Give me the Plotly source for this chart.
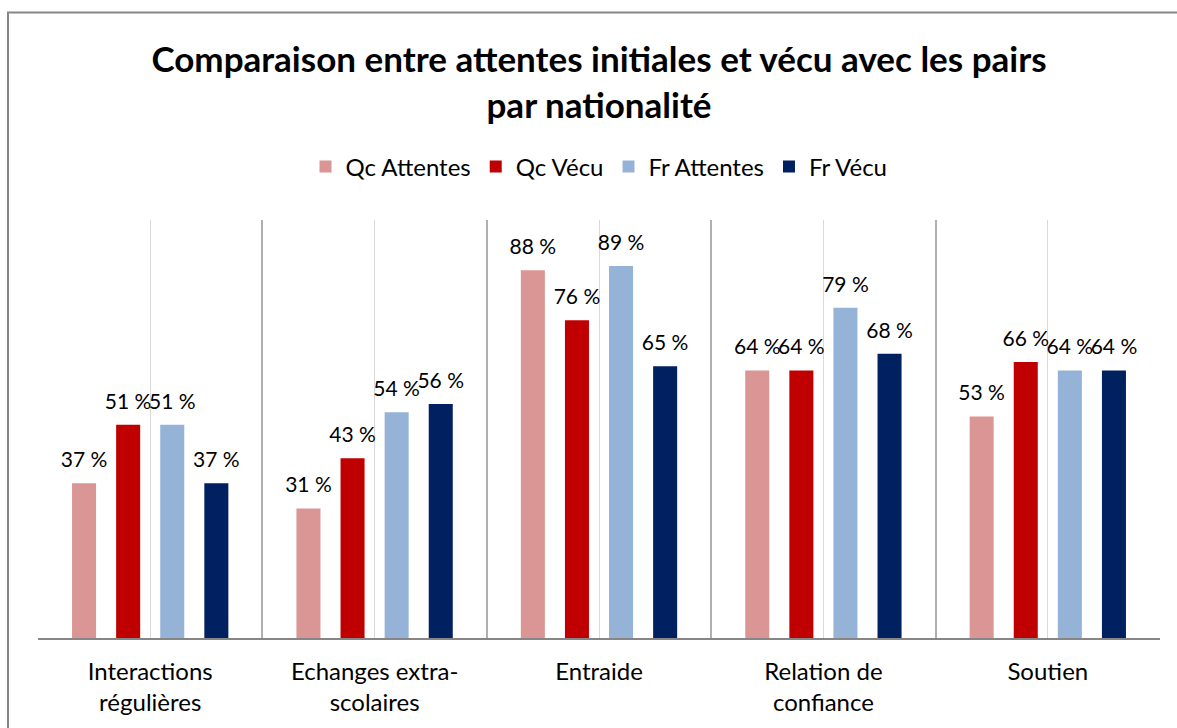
import plotly.graph_objects as go

# Categories and series (percentages)
categories = ["Interactions<br>régulières", "Echanges extra-<br>scolaires", "Entraide",
              "Relation de<br>confiance", "Soutien"]
series_names = ["Qc Attentes", "Qc Vécu", "Fr Attentes", "Fr Vécu"]
qc_attentes = [37, 31, 88, 64, 53]
qc_vecu = [51, 43, 76, 64, 66]
fr_attentes = [51, 54, 89, 79, 64]
fr_vecu = [37, 56, 65, 68, 64]
colors = ["#D99694", "#C00000", "#95B3D7", "#002060"]

FONT = "Lato"
xpos = list(range(len(categories)))
values = [qc_attentes, qc_vecu, fr_attentes, fr_vecu]

fig = go.Figure()
for name, vals, col in zip(series_names, values, colors):
    fig.add_trace(go.Bar(x=xpos, y=vals, name=name, marker=dict(color=col, line=dict(width=0)),
                         hoverinfo="skip"))

# value labels, grouped alongside the bars
for name, vals in zip(series_names, values):
    fig.add_trace(go.Scatter(x=xpos, y=vals, mode="markers+text",
                             text=[f"{v} %" for v in vals], textposition="top center",
                             textfont=dict(family=FONT, size=21, color="#000000"),
                             marker=dict(size=16, opacity=0), showlegend=False,
                             hoverinfo="skip", cliponaxis=False))

fig.update_layout(
    width=1177, height=728,
    margin=dict(l=38, r=17, t=220, b=90),
    paper_bgcolor="white", plot_bgcolor="white",
    barmode="group", bargap=0.214, bargroupgap=0.455,
    scattermode="group", scattergap=0.214,
    font=dict(family=FONT, color="#000000"),
    title=dict(text="<b>Comparaison entre attentes initiales et vécu avec les pairs<br>par nationalité</b>",
               x=(38 + 1160) / 2 / 1177, xanchor="center", y=0.901, yanchor="top",
               font=dict(family=FONT, size=35, color="#000000")),
    legend=dict(orientation="h", x=0.5, xanchor="center", y=1.127, yanchor="middle",
                font=dict(family=FONT, size=24, color="#000000"), traceorder="normal"),
    xaxis=dict(range=[-0.5, 4.5], tickvals=xpos, ticktext=categories,
               showgrid=True, gridcolor="#D9D9D9", gridwidth=1,
               minor=dict(tick0=0.5, dtick=1, showgrid=True, gridcolor="#B0B0B0", gridwidth=2),
               showline=True, linecolor="#868686", linewidth=2,
               ticks="", tickfont=dict(family=FONT, size=24, color="#000000"),
               ticklabelstandoff=11, zeroline=False, fixedrange=True),
    yaxis=dict(range=[0, 100], visible=False, showgrid=False, zeroline=False, fixedrange=True),
    shapes=[dict(type="rect", xref="paper", yref="paper",
                 x0=(8 - 38) / 1122, x1=1.2, y0=-0.5, y1=1 + (220 - 12.5) / 418,
                 line=dict(color="#868686", width=2), fillcolor="rgba(0,0,0,0)", layer="below")],
)

fig.write_html("out.html")
